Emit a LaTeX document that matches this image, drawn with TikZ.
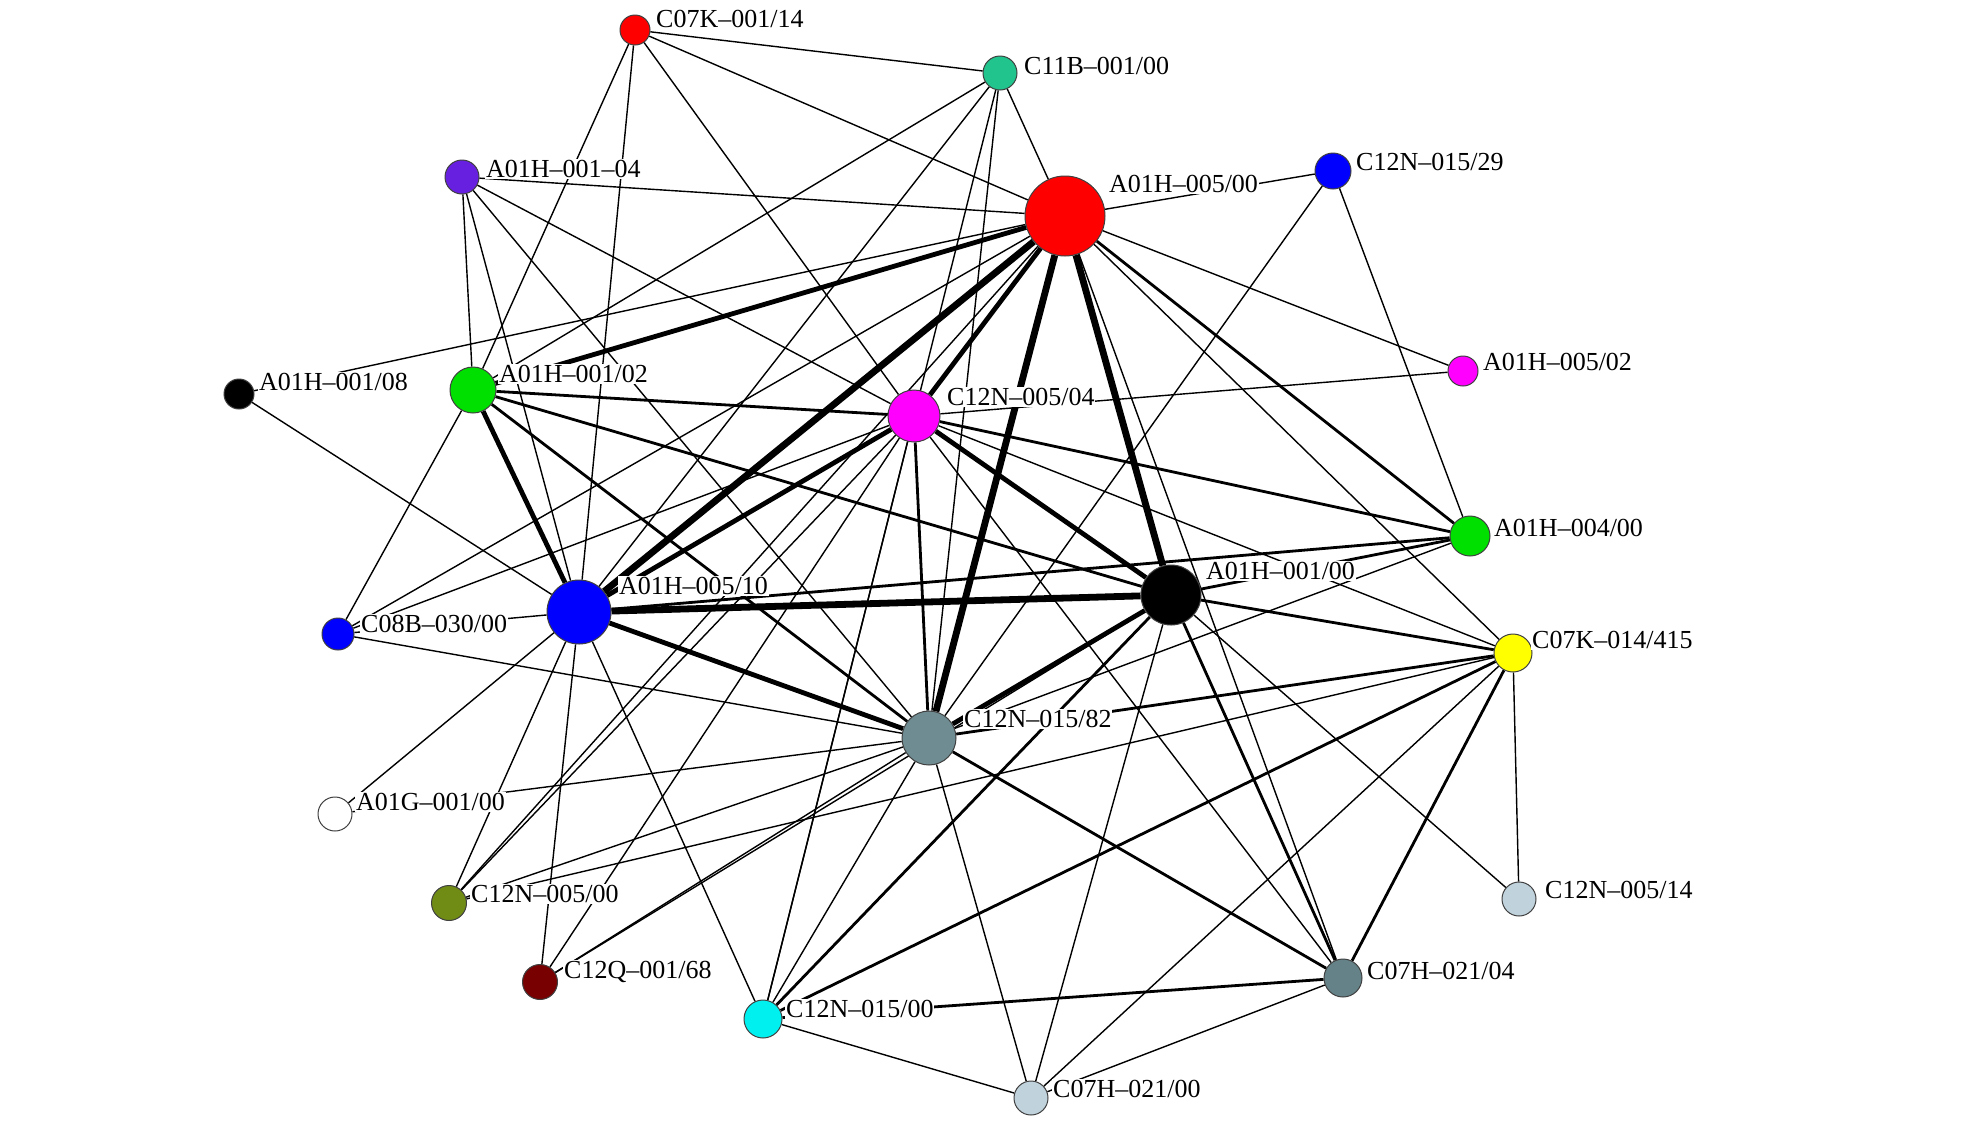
\documentclass[tikz,border=0pt]{standalone}
\usepackage{fontspec}
\setmainfont{Liberation Serif}
\usetikzlibrary{backgrounds}
\definecolor{cteal}{RGB}{32,196,140}
\definecolor{cpurple}{RGB}{104,32,224}
\definecolor{cgreen}{RGB}{0,224,0}
\definecolor{cyell}{RGB}{255,255,0}
\definecolor{cslate}{RGB}{110,140,146}
\definecolor{cslatedk}{RGB}{100,130,136}
\definecolor{colive}{RGB}{112,140,20}
\definecolor{cmaroon}{RGB}{120,0,0}
\definecolor{ccyan}{RGB}{0,240,240}
\definecolor{cpale}{RGB}{192,210,220}
\definecolor{cmag}{RGB}{255,0,255}
\definecolor{cred}{RGB}{255,0,0}
\definecolor{cblue}{RGB}{0,0,255}
\begin{document}
\begin{tikzpicture}[x=0.5pt,y=-0.5pt,
  nd/.style={circle, draw=black!75, line width=0.5pt, inner sep=0pt},
  lbl/.style={anchor=west, fill=white, inner sep=0.4pt, font=\fontsize{13}{13}\selectfont},
  e0/.style={line width=0.7pt},
  e1/.style={line width=1.4pt},
  e2/.style={line width=2.4pt},
  e3/.style={line width=3.4pt}]
\useasboundingbox (0,0) rectangle (1972,1131);
% nodes
\node[nd, fill=cred, minimum size=15pt] (a) at (635,30) {};
\node[nd, fill=cteal, minimum size=17pt] (b) at (1000,73) {};
\node[nd, fill=cpurple, minimum size=17pt] (c) at (462,177) {};
\node[nd, fill=cred, minimum size=40pt] (R) at (1065,216) {};
\node[nd, fill=cblue, minimum size=18pt] (d) at (1333,171) {};
\node[nd, fill=cmag, minimum size=15pt] (e) at (1463,371) {};
\node[nd, fill=black, minimum size=15pt] (f) at (239,394) {};
\node[nd, fill=cgreen, minimum size=23pt] (G) at (473,390) {};
\node[nd, fill=cmag, minimum size=26pt] (M) at (914,416) {};
\node[nd, fill=cgreen, minimum size=20pt] (h) at (1470,536) {};
\node[nd, fill=black, minimum size=30pt] (K) at (1171,595) {};
\node[nd, fill=cblue, minimum size=32pt] (B) at (579,612) {};
\node[nd, fill=cblue, minimum size=16pt] (i) at (338,634) {};
\node[nd, fill=cyell, minimum size=19pt] (y) at (1513,653) {};
\node[nd, fill=cslate, minimum size=27pt] (S) at (929,738) {};
\node[nd, fill=white, minimum size=17pt] (w) at (335,814) {};
\node[nd, fill=colive, minimum size=17.5pt] (o) at (449,903) {};
\node[nd, fill=cpale, minimum size=17pt] (p) at (1519,899) {};
\node[nd, fill=cmaroon, minimum size=17.5pt] (q) at (540,982) {};
\node[nd, fill=cslatedk, minimum size=19pt] (t) at (1343,978) {};
\node[nd, fill=ccyan, minimum size=19pt] (u) at (763,1019) {};
\node[nd, fill=cpale, minimum size=17pt] (v) at (1031,1098) {};
% edges
\begin{scope}[on background layer]
\fill[white] (0,0) rectangle (1972,1131);
\draw[e3] (R) -- (B);
\draw[e3] (R) -- (K);
\draw[e3] (B) -- (K);
\draw[e3] (R) -- (S);
\draw[e2] (R) -- (M);
\draw[e2] (M) -- (B);
\draw[e2] (G) -- (B);
\draw[e2] (K) -- (S);
\draw[e2] (M) -- (K);
\draw[e2] (B) -- (S);
\draw[e2] (G) -- (R);
\draw[e1] (R) -- (h);
\draw[e1] (M) -- (h);
\draw[e1] (G) -- (M);
\draw[e1] (G) -- (K);
\draw[e1] (G) -- (S);
\draw[e1] (M) -- (S);
\draw[e1] (K) -- (u);
\draw[e1] (K) -- (y);
\draw[e1] (u) -- (y);
\draw[e1] (S) -- (y);
\draw[e1] (K) -- (t);
\draw[e1] (S) -- (t);
\draw[e1] (u) -- (t);
\draw[e1] (h) -- (K);
\draw[e1] (h) -- (B);
\draw[e1] (y) -- (t);
\draw[e0] (a) -- (b);
\draw[e0] (a) -- (R);
\draw[e0] (a) -- (M);
\draw[e0] (a) -- (G);
\draw[e0] (a) -- (B);
\draw[e0] (b) -- (R);
\draw[e0] (b) -- (G);
\draw[e0] (b) -- (B);
\draw[e0] (b) -- (u);
\draw[e0] (b) -- (S);
\draw[e0] (c) -- (G);
\draw[e0] (c) -- (R);
\draw[e0] (c) -- (B);
\draw[e0] (c) -- (M);
\draw[e0] (c) -- (S);
\draw[e0] (R) -- (d);
\draw[e0] (R) -- (e);
\draw[e0] (R) -- (y);
\draw[e0] (R) -- (f);
\draw[e0] (R) -- (o);
\draw[e0] (R) -- (i);
\draw[e0] (R) -- (t);
\draw[e0] (d) -- (h);
\draw[e0] (d) -- (S);
\draw[e0] (e) -- (M);
\draw[e0] (f) -- (B);
\draw[e0] (M) -- (i);
\draw[e0] (M) -- (o);
\draw[e0] (M) -- (q);
\draw[e0] (M) -- (u);
\draw[e0] (M) -- (t);
\draw[e0] (M) -- (y);
\draw[e0] (i) -- (G);
\draw[e0] (i) -- (B);
\draw[e0] (i) -- (S);
\draw[e0] (w) -- (B);
\draw[e0] (w) -- (S);
\draw[e0] (o) -- (B);
\draw[e0] (o) -- (S);
\draw[e0] (o) -- (y);
\draw[e0] (q) -- (B);
\draw[e0] (q) -- (S);
\draw[e0] (q) -- (K);
\draw[e0] (u) -- (B);
\draw[e0] (u) -- (S);
\draw[e0] (u) -- (v);
\draw[e0] (S) -- (h);
\draw[e0] (S) -- (v);
\draw[e0] (K) -- (v);
\draw[e0] (K) -- (p);
\draw[e0] (y) -- (v);
\draw[e0] (y) -- (p);
\draw[e0] (t) -- (v);
\end{scope}
% labels
\node[lbl] (la) at (655,19) {C07K–001/14};
\node[lbl] (lb) at (1023,66) {C11B–001/00};
\node[lbl] (lc) at (485,169) {A01H–001–04};
\node[lbl] (lR) at (1108,184) {A01H–005/00};
\node[lbl] (ld) at (1355,162) {C12N–015/29};
\node[lbl] (le) at (1482,362) {A01H–005/02};
\node[lbl] (lf) at (258,382) {A01H–001/08};
\node[lbl] (lG) at (498,374) {A01H–001/02};
\node[lbl] (lM) at (946,397) {C12N–005/04};
\node[lbl] (lh) at (1493,528) {A01H–004/00};
\node[lbl] (lK) at (1205,571) {A01H–001/00};
\node[lbl] (lB) at (618,586) {A01H–005/10};
\node[lbl] (li) at (360,624) {C08B–030/00};
\node[lbl] (ly) at (1531,640) {C07K–014/415};
\node[lbl] (lS) at (963,719) {C12N–015/82};
\node[lbl] (lw) at (355,802) {A01G–001/00};
\node[lbl] (lo) at (470,894) {C12N–005/00};
\node[lbl] (lp) at (1544,890) {C12N–005/14};
\node[lbl] (lq) at (563,972) {C12Q–001/68};
\node[lbl] (lt) at (1366,971) {C07H–021/04};
\node[lbl] (lu) at (785,1009) {C12N–015/00};
\node[lbl] (lv) at (1052,1089) {C07H–021/00};
\end{tikzpicture}
\end{document}
